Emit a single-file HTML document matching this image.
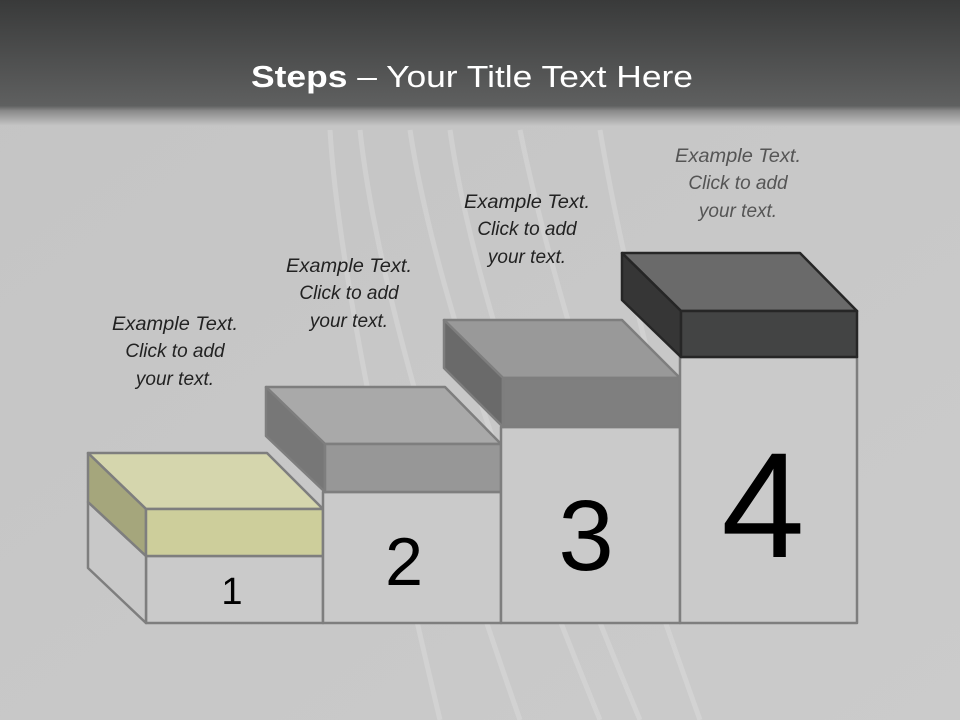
<!DOCTYPE html>
<html><head><meta charset="utf-8"><style>
html,body{margin:0;padding:0;width:960px;height:720px;overflow:hidden;background:#c6c6c6}
</style></head><body>
<svg width="960" height="720" viewBox="0 0 960 720" xmlns="http://www.w3.org/2000/svg" font-family="Liberation Sans, sans-serif">
<defs>
<linearGradient id="hd" x1="0" y1="0" x2="0" y2="1">
<stop offset="0" stop-color="#393a3a"/><stop offset="0.84" stop-color="#5f6060"/><stop offset="0.88" stop-color="#8a8a8a"/><stop offset="1" stop-color="#c6c6c6"/>
</linearGradient>
<linearGradient id="bg" x1="0" y1="0" x2="1" y2="1">
<stop offset="0" stop-color="#c4c4c4"/><stop offset="1" stop-color="#cbcbcb"/>
</linearGradient>
</defs>
<rect width="960" height="720" fill="url(#bg)"/>
<g stroke="#dedede" stroke-width="5" opacity="0.45" fill="none">
<path d="M330 130 Q340 300 440 720"/><path d="M360 130 Q380 320 520 720"/>
<path d="M410 130 Q440 330 600 720"/><path d="M450 130 Q480 340 640 720"/>
<path d="M520 130 Q560 330 700 720"/><path d="M600 130 Q620 250 660 400"/>
</g>
<rect width="960" height="126" fill="url(#hd)"/>
<text x="472" y="87" text-anchor="middle" fill="#fff" font-size="31" textLength="442" lengthAdjust="spacingAndGlyphs"><tspan font-weight="bold">Steps</tspan> – Your Title Text Here</text>

<g stroke-linejoin="round">
<polygon points="146,556 323,556 323,623 146,623" fill="#cacaca" stroke="#7e7e7e" stroke-width="2.5"/>
<polygon points="88,502 146,556 146,623 88,568" fill="#c8c8c8" stroke="#7e7e7e" stroke-width="2.5"/>
<polygon points="88,453 267,453 323,509 146,509" fill="#d5d6ad" stroke="#7e7e7e" stroke-width="2.5"/>
<polygon points="88,453 146,509 146,556 88,502" fill="#a5a67c" stroke="#7e7e7e" stroke-width="2.5"/>
<rect x="146" y="509" width="177" height="47" fill="#cdce9b" stroke="#7e7e7e" stroke-width="2.5"/>
<rect x="323" y="492" width="178" height="131" fill="#cacaca" stroke="#7e7e7e" stroke-width="2.5"/>
<polygon points="266,387 445,387 501,444 325,444" fill="#a9a9a9" stroke="#7e7e7e" stroke-width="2.5"/>
<polygon points="266,387 325,444 325,492 266,436" fill="#777" stroke="#7e7e7e" stroke-width="2.5"/>
<rect x="325" y="444" width="176" height="48" fill="#979797" stroke="#7e7e7e" stroke-width="2.5"/>
<rect x="501" y="427" width="179" height="196" fill="#cacaca" stroke="#7e7e7e" stroke-width="2.5"/>
<polygon points="444,320 622,320 680,378 503,378" fill="#999" stroke="#7e7e7e" stroke-width="2.5"/>
<polygon points="444,320 503,378 503,427 444,368" fill="#6a6a6a" stroke="#7e7e7e" stroke-width="2.5"/>
<rect x="503" y="378" width="177" height="49" fill="#7f7f7f" stroke="#7e7e7e" stroke-width="2.5"/>
<rect x="680" y="357" width="177" height="266" fill="#cacaca" stroke="#7e7e7e" stroke-width="2.5"/>
<polygon points="622,253 800,253 857,311 681,311" fill="#6a6a6a" stroke="#262626" stroke-width="2.5"/>
<polygon points="622,253 681,311 681,357 622,300" fill="#363636" stroke="#262626" stroke-width="2.5"/>
<rect x="681" y="311" width="176" height="46" fill="#434444" stroke="#262626" stroke-width="2.5"/>
</g>
<g fill="#000" text-anchor="middle">
<text x="232" y="604" font-size="38">1</text>
<text x="404" y="585" font-size="68">2</text>
<text x="586" y="570" font-size="100">3</text>
<text x="763" y="557" font-size="150">4</text>
</g>
<g font-style="italic" font-size="19" text-anchor="middle" fill="#222">
<text x="175" y="330" textLength="126" lengthAdjust="spacingAndGlyphs">Example Text.</text><text x="175" y="357">Click  to add</text><text x="175" y="385">your text.</text>
<text x="349" y="272" textLength="126" lengthAdjust="spacingAndGlyphs">Example Text.</text><text x="349" y="299">Click  to add</text><text x="349" y="327">your text.</text>
<text x="527" y="208" textLength="126" lengthAdjust="spacingAndGlyphs">Example Text.</text><text x="527" y="235">Click  to add</text><text x="527" y="263">your text.</text>
<g fill="#555"><text x="738" y="162" textLength="126" lengthAdjust="spacingAndGlyphs">Example Text.</text><text x="738" y="189">Click  to add</text><text x="738" y="217">your text.</text></g>
</g>
</svg>
</body></html>
